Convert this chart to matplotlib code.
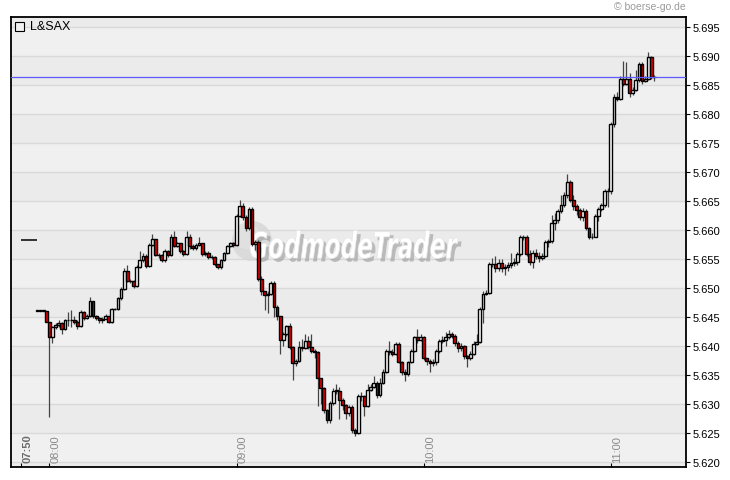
import numpy as np
import matplotlib
matplotlib.use("Agg")
import matplotlib.pyplot as plt
import matplotlib.patheffects as pe
from matplotlib.patches import Rectangle, PathPatch, Circle
from matplotlib.textpath import TextPath
from matplotlib.font_manager import FontProperties
from matplotlib.transforms import Affine2D, IdentityTransform, offset_copy, blended_transform_factory

plt.rcParams['font.family'] = ['Liberation Sans', 'DejaVu Sans']

# --- data: 1-minute candles, L&SAX, minutes relative to 08:00 ---
start_minute = -4
first_open = 5.6461
closes = [
    5.6461, 5.6461, 5.6461, 5.6442,
    5.6415, 5.6432, 5.6437, 5.6440, 5.6430, 5.6444, 5.6444, 5.6444, 5.6442, 5.6434,
    5.6459, 5.6449, 5.6452, 5.6477, 5.6452, 5.6449, 5.6444, 5.6447, 5.6452, 5.6442,
    5.6464, 5.6464, 5.6482, 5.6499, 5.6530, 5.6512, 5.6512, 5.6504, 5.6536, 5.6548,
    5.6555, 5.6538, 5.6574, 5.6584, 5.6557, 5.6557, 5.6548, 5.6564, 5.6557, 5.6588,
    5.6572, 5.6577, 5.6564, 5.6559, 5.6588, 5.6572, 5.6569, 5.6574, 5.6577, 5.6559,
    5.6560, 5.6554, 5.6554, 5.6541, 5.6536, 5.6548, 5.6560, 5.6572, 5.6577, 5.6574,
    5.6624, 5.6642, 5.6622, 5.6603, 5.6636, 5.6576, 5.6579, 5.6516, 5.6495, 5.6488,
    5.6490, 5.6509, 5.6468, 5.6452, 5.6410, 5.6420, 5.6434, 5.6399, 5.6370, 5.6375,
    5.6399, 5.6397, 5.6409, 5.6399, 5.6392, 5.6389, 5.6344, 5.6327, 5.6289, 5.6272,
    5.6301, 5.6323, 5.6323, 5.6307, 5.6298, 5.6284, 5.6294, 5.6255, 5.6250, 5.6313,
    5.6313, 5.6296, 5.6324, 5.6330, 5.6337, 5.6315, 5.6337, 5.6355, 5.6392, 5.6389,
    5.6386, 5.6404, 5.6373, 5.6356, 5.6351, 5.6372, 5.6392, 5.6415, 5.6410, 5.6415,
    5.6380, 5.6375, 5.6370, 5.6372, 5.6391, 5.6408, 5.6410, 5.6416, 5.6420, 5.6418,
    5.6405, 5.6396, 5.6400, 5.6382, 5.6380, 5.6387, 5.6404, 5.6407, 5.6464, 5.6490,
    5.6492, 5.6541, 5.6541, 5.6535, 5.6543, 5.6535, 5.6537, 5.6540, 5.6543, 5.6545,
    5.6558, 5.6588, 5.6588, 5.6558, 5.6545, 5.6560, 5.6555, 5.6552, 5.6555, 5.6579,
    5.6581, 5.6612, 5.6617, 5.6633, 5.6643, 5.6660, 5.6683, 5.6652, 5.6641, 5.6634,
    5.6622, 5.6633, 5.6603, 5.6588, 5.6588, 5.6624, 5.6636, 5.6643, 5.6667, 5.6668,
    5.6782, 5.6830, 5.6826, 5.6861, 5.6852, 5.6861, 5.6836, 5.6842, 5.6859, 5.6886,
    5.6857, 5.6861, 5.6898, 5.6864, 5.6864,
]
highs = [
    5.6461, 5.6461, 5.6461, 5.6461,
    5.6442, 5.6434, 5.6440, 5.6445, 5.6441, 5.6447, 5.6458, 5.6462, 5.6452, 5.6444,
    5.6462, 5.6460, 5.6455, 5.6484, 5.6478, 5.6453, 5.6450, 5.6450, 5.6455, 5.6452,
    5.6466, 5.6466, 5.6485, 5.6502, 5.6535, 5.6540, 5.6515, 5.6513, 5.6540, 5.6564,
    5.6560, 5.6558, 5.6578, 5.6593, 5.6584, 5.6560, 5.6558, 5.6567, 5.6566, 5.6593,
    5.6598, 5.6580, 5.6578, 5.6566, 5.6598, 5.6593, 5.6575, 5.6577, 5.6588, 5.6578,
    5.6563, 5.6563, 5.6557, 5.6555, 5.6542, 5.6550, 5.6562, 5.6574, 5.6580, 5.6580,
    5.6627, 5.6651, 5.6646, 5.6625, 5.6640, 5.6640, 5.6583, 5.6582, 5.6520, 5.6495,
    5.6494, 5.6512, 5.6512, 5.6470, 5.6452, 5.6425, 5.6437, 5.6440, 5.6400, 5.6378,
    5.6408, 5.6412, 5.6420, 5.6418, 5.6420, 5.6395, 5.6392, 5.6345, 5.6330, 5.6292,
    5.6305, 5.6327, 5.6335, 5.6330, 5.6310, 5.6300, 5.6298, 5.6298, 5.6258, 5.6318,
    5.6320, 5.6316, 5.6335, 5.6335, 5.6348, 5.6340, 5.6345, 5.6360, 5.6395, 5.6408,
    5.6395, 5.6407, 5.6407, 5.6375, 5.6360, 5.6375, 5.6395, 5.6418, 5.6430, 5.6420,
    5.6418, 5.6380, 5.6377, 5.6378, 5.6395, 5.6412, 5.6418, 5.6425, 5.6428, 5.6425,
    5.6420, 5.6408, 5.6405, 5.6402, 5.6385, 5.6392, 5.6408, 5.6420, 5.6468, 5.6494,
    5.6496, 5.6545, 5.6552, 5.6556, 5.6550, 5.6550, 5.6542, 5.6545, 5.6560, 5.6552,
    5.6562, 5.6592, 5.6592, 5.6592, 5.6565, 5.6565, 5.6568, 5.6562, 5.6560, 5.6582,
    5.6585, 5.6626, 5.6630, 5.6637, 5.6660, 5.6665, 5.6696, 5.6686, 5.6660, 5.6645,
    5.6638, 5.6638, 5.6636, 5.6605, 5.6595, 5.6627, 5.6640, 5.6646, 5.6670, 5.6672,
    5.6786, 5.6835, 5.6838, 5.6865, 5.6892, 5.6890, 5.6870, 5.6846, 5.6875, 5.6890,
    5.6890, 5.6866, 5.6907, 5.6900, 5.6868,
]
lows = [
    5.6461, 5.6461, 5.6461, 5.6442,
    5.6277, 5.6405, 5.6430, 5.6432, 5.6420, 5.6428, 5.6435, 5.6432, 5.6438, 5.6430,
    5.6432, 5.6445, 5.6446, 5.6450, 5.6448, 5.6445, 5.6440, 5.6440, 5.6448, 5.6440,
    5.6440, 5.6462, 5.6462, 5.6480, 5.6497, 5.6510, 5.6508, 5.6500, 5.6502, 5.6534,
    5.6545, 5.6535, 5.6536, 5.6572, 5.6555, 5.6552, 5.6545, 5.6545, 5.6553, 5.6555,
    5.6570, 5.6570, 5.6560, 5.6555, 5.6557, 5.6568, 5.6565, 5.6566, 5.6572, 5.6555,
    5.6556, 5.6550, 5.6550, 5.6538, 5.6532, 5.6533, 5.6546, 5.6558, 5.6570, 5.6570,
    5.6572, 5.6622, 5.6618, 5.6598, 5.6600, 5.6572, 5.6565, 5.6512, 5.6488, 5.6462,
    5.6457, 5.6488, 5.6450, 5.6445, 5.6387, 5.6400, 5.6418, 5.6395, 5.6341, 5.6365,
    5.6372, 5.6392, 5.6395, 5.6395, 5.6388, 5.6380, 5.6296, 5.6300, 5.6285, 5.6267,
    5.6268, 5.6298, 5.6318, 5.6275, 5.6290, 5.6275, 5.6280, 5.6250, 5.6245, 5.6248,
    5.6305, 5.6280, 5.6294, 5.6322, 5.6328, 5.6310, 5.6312, 5.6335, 5.6353, 5.6385,
    5.6382, 5.6384, 5.6370, 5.6350, 5.6340, 5.6348, 5.6370, 5.6390, 5.6405, 5.6408,
    5.6376, 5.6368, 5.6355, 5.6365, 5.6368, 5.6388, 5.6405, 5.6400, 5.6412, 5.6414,
    5.6400, 5.6390, 5.6392, 5.6378, 5.6364, 5.6376, 5.6385, 5.6402, 5.6405, 5.6440,
    5.6488, 5.6490, 5.6536, 5.6528, 5.6530, 5.6528, 5.6522, 5.6530, 5.6535, 5.6538,
    5.6540, 5.6555, 5.6582, 5.6555, 5.6540, 5.6535, 5.6550, 5.6545, 5.6548, 5.6553,
    5.6570, 5.6578, 5.6600, 5.6612, 5.6630, 5.6640, 5.6655, 5.6648, 5.6635, 5.6625,
    5.6618, 5.6615, 5.6600, 5.6585, 5.6584, 5.6588, 5.6615, 5.6632, 5.6640, 5.6640,
    5.6662, 5.6778, 5.6822, 5.6824, 5.6848, 5.6850, 5.6830, 5.6832, 5.6840, 5.6855,
    5.6852, 5.6855, 5.6858, 5.6860, 5.6857,
]
last_price = 5.6864
prev_close = 5.6582
prev_close_span = (-9, -4)
tick_minutes = [-9, 0, 60, 120, 180]
tick_labels = ["07:50", "08:00", "09:00", "10:00", "11:00"]
price_ticks = [5.620, 5.625, 5.630, 5.635, 5.640, 5.645, 5.650, 5.655,
               5.660, 5.665, 5.670, 5.675, 5.680, 5.685, 5.690, 5.695]

# --- candle arrays ---
closes = np.array(closes)
opens = np.concatenate([[first_open], closes[:-1]])
highs = np.maximum(np.array(highs), np.maximum(opens, closes))
lows = np.minimum(np.array(lows), np.minimum(opens, closes))
minutes = start_minute + np.arange(len(closes))

# --- figure ---
fig = plt.figure(figsize=(7.3, 4.81), dpi=100, facecolor="white")
ax = fig.add_axes([11/730, 13/481, 675/730, 450/481])
ax.set_xlim(-12.3, 204.1)
ax.set_ylim(5.61914, 5.69672)
ax.set_facecolor("#ededed")

# alternating bands + grid
for k in range(len(price_ticks) + 1):
    lo = 5.615 + k * 0.005
    ax.axhspan(lo, lo + 0.005, color="#f0f0f0" if k % 2 else "#ebebeb", lw=0, zorder=0)
for p in price_ticks:
    ax.axhline(p, color="#d9d9d9", lw=1.0, zorder=0.5)

# watermark (sphere + slanted logo text), display pixels
H = 481
ax.add_patch(Circle((252, H - 242), 20, transform=IdentityTransform(),
                    facecolor="#d6d6d6", edgecolor="none", alpha=0.8, zorder=1))
ax.add_patch(Circle((247, H - 237), 13, transform=IdentityTransform(),
                    facecolor="#e2e2e2", edgecolor="none", alpha=0.8, zorder=1))
fp = FontProperties(family="DejaVu Sans", weight="bold", style="italic")
tp = TextPath((0, 0), "GodmodeTrader", size=1, prop=fp)
ext = tp.get_extents()
sx = 208 / ext.width
sy = 36
wm = PathPatch(tp, transform=Affine2D().scale(sx, sy).translate(250 - ext.x0 * sx, H - 259),
               facecolor="white", edgecolor="#e6e6e6", lw=0.5, zorder=1.5)
wm.set_path_effects([pe.SimplePatchShadow(offset=(2.5, -2.5), shadow_rgbFace="#9a9a9a", alpha=0.6),
                     pe.Normal()])
ax.add_patch(wm)

# previous close marker
ax.hlines(prev_close, *prev_close_span, color="black", lw=1.1, zorder=4)

# candles
ax.vlines(minutes, lows, highs, color="#444444", lw=0.9, zorder=3)
body_lo = np.minimum(opens, closes)
body_h = np.maximum(np.abs(closes - opens), 0.00003)
colors = np.where(closes >= opens, "white", "#e60000")
ax.bar(minutes, body_h, bottom=body_lo, width=0.88, color=colors,
       edgecolor="black", linewidth=1.0, zorder=4)

# last price line
ax.axhline(last_price, color="#5a5aff", lw=0.9, zorder=5)

# axes styling
for s in ax.spines.values():
    s.set_color("black")
    s.set_linewidth(1.3)
ax.yaxis.tick_right()
ax.set_yticks(price_ticks)
ax.set_yticklabels([f"{p:.3f}" for p in price_ticks])
ax.tick_params(axis="y", direction="out", length=3, width=0.8, labelsize=8, pad=1.5, colors="black")
ax.set_xticks(tick_minutes)
ax.tick_params(axis="x", direction="in", length=3, width=0.8, labelbottom=False)

trans = blended_transform_factory(ax.transData, ax.transAxes)
for m, lab in zip(tick_minutes, tick_labels):
    first = lab == "07:50"
    ax.text(m, 0.011, lab, rotation=90, ha="left", va="bottom",
            transform=offset_copy(trans, fig=fig, x=1.5, units="dots"),
            fontsize=8, color="#6a6a6a" if first else "#8a8a8a",
            fontweight="bold" if first else "normal", zorder=6)

# legend box + name
fig.patches.append(Rectangle((15/730, (H - 32)/H), 9/730, 9/H, transform=fig.transFigure,
                             facecolor="#f2f2f2", edgecolor="black", lw=0.8))
fig.text(30/730, (H - 27)/H, "L&SAX", ha="left", va="center", fontsize=9, color="black")

# copyright
fig.text(686/730, (H - 7)/H, "\u00a9 boerse-go.de", ha="right", va="center", fontsize=7.5, color="#9a9a9a")

fig.savefig("out.png", dpi=100, facecolor="white")
